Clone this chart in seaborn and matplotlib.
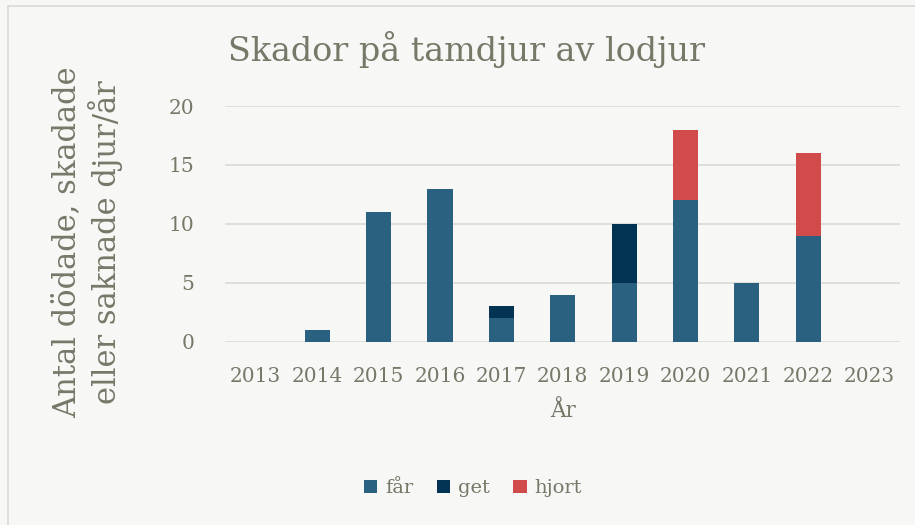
import matplotlib
matplotlib.use("Agg")
import matplotlib.pyplot as plt
import seaborn as sns
import pandas as pd
import numpy as np
from matplotlib.patches import Rectangle, Patch

years = ["2013", "2014", "2015", "2016", "2017", "2018", "2019", "2020", "2021", "2022", "2023"]
far = [0, 1, 11, 13, 2, 4, 5, 12, 5, 9, 0]
get = [0, 0, 0, 0, 1, 0, 5, 0, 0, 0, 0]
hjort = [0, 0, 0, 0, 0, 0, 0, 6, 0, 7, 0]
series_names = ["får", "get", "hjort"]
colors = ["#2a6080", "#033352", "#d14b4b"]

sns.set_theme(style="white")
plt.rcParams["font.family"] = ["DejaVu Serif"]
txt = "#767868"
bg = "#f7f7f5"

fig = plt.figure(figsize=(9.15, 5.25), dpi=100, facecolor=bg)
ax = fig.add_axes([0.246, 0.349, 0.738, 0.449])
ax.set_facecolor(bg)

df = pd.DataFrame({"year": years, "får": far, "get": get, "hjort": hjort})
cums = []
c = np.zeros(len(years))
for name in series_names:
    c = c + np.array(df[name], dtype=float)
    cums.append(c.copy())
for name, col, cum in reversed(list(zip(series_names, colors, cums))):
    sns.barplot(x=df["year"], y=cum, color=col, saturation=1, width=0.41, ax=ax,
                order=years, edgecolor="none", linewidth=0, zorder=3)

ax.set_ylim(0, 20)
ax.set_yticks([0, 5, 10, 15, 20])
ax.grid(axis="y", color="#dcdcd8", linewidth=1.3, zorder=0)
ax.set_axisbelow(True)
for s in ax.spines.values():
    s.set_visible(False)
ax.tick_params(axis="both", length=0, colors=txt, labelsize=14.5)
ax.tick_params(axis="x", pad=18)
ax.tick_params(axis="y", pad=22)
for lab in ax.get_xticklabels() + ax.get_yticklabels():
    lab.set_color(txt)
ax.set_xlabel("År", fontsize=15.5, color=txt, labelpad=10)
ax.set_ylabel("")

fig.text(0.095, 0.538, "Antal dödade, skadade\neller saknade djur/år", rotation=90,
         ha="center", va="center", fontsize=22, color=txt, linespacing=1.2)
fig.text(0.249, 0.905, "Skador på tamdjur av lodjur", fontsize=24, color=txt,
         ha="left", va="center")

handles = [Patch(facecolor=c_, edgecolor="none") for c_ in colors]
fig.legend(handles, series_names, loc="center", bbox_to_anchor=(0.517, 0.07),
           ncol=3, frameon=False, fontsize=14, labelcolor=txt,
           handlelength=0.7, handleheight=0.7, handletextpad=0.4, columnspacing=1.2)

fig.patches.append(Rectangle((8 / 915, -0.1), 1.2, 1.1 - 6 / 525, transform=fig.transFigure,
                             facecolor="none", edgecolor="#d9d9d9", linewidth=1.2))

fig.savefig("out.png", dpi=100, facecolor=bg)
